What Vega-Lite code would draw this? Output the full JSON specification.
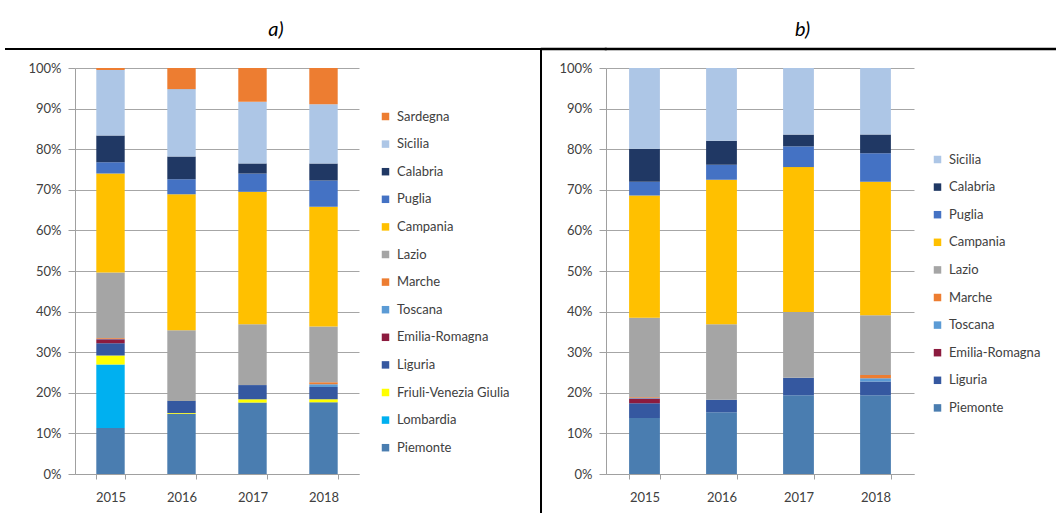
{
  "$schema": "https://vega.github.io/schema/vega-lite/v6.json",
  "background": "white",
  "padding": {"left": 5, "top": 18, "right": 0, "bottom": 0},
  "columns": 5,
  "spacing": 0,
  "bounds": "flush",
  "datasets": {
    "a": [
      {"year": "2015", "region": "Piemonte", "share": 11.3},
      {"year": "2015", "region": "Lombardia", "share": 15.7},
      {"year": "2015", "region": "Friuli-Venezia Giulia", "share": 2.2},
      {"year": "2015", "region": "Liguria", "share": 3.0},
      {"year": "2015", "region": "Emilia-Romagna", "share": 1.0},
      {"year": "2015", "region": "Toscana", "share": 0.1},
      {"year": "2015", "region": "Marche", "share": 0.2},
      {"year": "2015", "region": "Lazio", "share": 16.1},
      {"year": "2015", "region": "Campania", "share": 24.4},
      {"year": "2015", "region": "Puglia", "share": 2.8},
      {"year": "2015", "region": "Calabria", "share": 6.6},
      {"year": "2015", "region": "Sicilia", "share": 16.1},
      {"year": "2015", "region": "Sardegna", "share": 0.5},
      {"year": "2016", "region": "Piemonte", "share": 14.8},
      {"year": "2016", "region": "Friuli-Venezia Giulia", "share": 0.2},
      {"year": "2016", "region": "Liguria", "share": 3.0},
      {"year": "2016", "region": "Lazio", "share": 17.4},
      {"year": "2016", "region": "Campania", "share": 33.5},
      {"year": "2016", "region": "Puglia", "share": 3.7},
      {"year": "2016", "region": "Calabria", "share": 5.6},
      {"year": "2016", "region": "Sicilia", "share": 16.6},
      {"year": "2016", "region": "Sardegna", "share": 5.2},
      {"year": "2017", "region": "Piemonte", "share": 17.6},
      {"year": "2017", "region": "Friuli-Venezia Giulia", "share": 0.8},
      {"year": "2017", "region": "Liguria", "share": 3.5},
      {"year": "2017", "region": "Lazio", "share": 15.0},
      {"year": "2017", "region": "Campania", "share": 32.6},
      {"year": "2017", "region": "Puglia", "share": 4.5},
      {"year": "2017", "region": "Calabria", "share": 2.5},
      {"year": "2017", "region": "Sicilia", "share": 15.2},
      {"year": "2017", "region": "Sardegna", "share": 8.3},
      {"year": "2018", "region": "Piemonte", "share": 17.7},
      {"year": "2018", "region": "Friuli-Venezia Giulia", "share": 0.7},
      {"year": "2018", "region": "Liguria", "share": 3.0},
      {"year": "2018", "region": "Toscana", "share": 0.7},
      {"year": "2018", "region": "Marche", "share": 0.5},
      {"year": "2018", "region": "Lazio", "share": 13.7},
      {"year": "2018", "region": "Campania", "share": 29.5},
      {"year": "2018", "region": "Puglia", "share": 6.5},
      {"year": "2018", "region": "Calabria", "share": 4.2},
      {"year": "2018", "region": "Sicilia", "share": 14.6},
      {"year": "2018", "region": "Sardegna", "share": 8.9}
    ],
    "b": [
      {"year": "2015", "region": "Piemonte", "share": 13.8},
      {"year": "2015", "region": "Liguria", "share": 3.6},
      {"year": "2015", "region": "Emilia-Romagna", "share": 1.2},
      {"year": "2015", "region": "Toscana", "share": 0.1},
      {"year": "2015", "region": "Marche", "share": 0.2},
      {"year": "2015", "region": "Lazio", "share": 19.6},
      {"year": "2015", "region": "Campania", "share": 30.1},
      {"year": "2015", "region": "Puglia", "share": 3.4},
      {"year": "2015", "region": "Calabria", "share": 8.1},
      {"year": "2015", "region": "Sicilia", "share": 19.9},
      {"year": "2016", "region": "Piemonte", "share": 15.2},
      {"year": "2016", "region": "Liguria", "share": 3.1},
      {"year": "2016", "region": "Lazio", "share": 18.6},
      {"year": "2016", "region": "Campania", "share": 35.6},
      {"year": "2016", "region": "Puglia", "share": 3.7},
      {"year": "2016", "region": "Calabria", "share": 5.9},
      {"year": "2016", "region": "Sicilia", "share": 17.9},
      {"year": "2017", "region": "Piemonte", "share": 19.4},
      {"year": "2017", "region": "Liguria", "share": 4.3},
      {"year": "2017", "region": "Lazio", "share": 16.2},
      {"year": "2017", "region": "Campania", "share": 35.7},
      {"year": "2017", "region": "Puglia", "share": 5.1},
      {"year": "2017", "region": "Calabria", "share": 2.9},
      {"year": "2017", "region": "Sicilia", "share": 16.4},
      {"year": "2018", "region": "Piemonte", "share": 19.4},
      {"year": "2018", "region": "Liguria", "share": 3.4},
      {"year": "2018", "region": "Toscana", "share": 0.8},
      {"year": "2018", "region": "Marche", "share": 0.8},
      {"year": "2018", "region": "Lazio", "share": 14.7},
      {"year": "2018", "region": "Campania", "share": 32.9},
      {"year": "2018", "region": "Puglia", "share": 7.0},
      {"year": "2018", "region": "Calabria", "share": 4.6},
      {"year": "2018", "region": "Sicilia", "share": 16.4}
    ]
  },
  "config": {
    "font": "Lato",
    "view": {"stroke": null},
    "axis": {
      "labelFont": "Lato",
      "labelFontSize": 13,
      "labelColor": "#404040",
      "domainColor": "#a0a0a0",
      "tickColor": "#a0a0a0",
      "gridColor": "#a6a6a6",
      "title": null
    },
    "legend": {
      "orient": "none",
      "title": null,
      "padding": 0,
      "symbolType": "square",
      "symbolSize": 56,
      "symbolStrokeWidth": 0,
      "labelFont": "Lato",
      "labelFontSize": 13,
      "labelColor": "#404040",
      "labelOffset": 5,
      "rowPadding": 13.6
    },
    "title": {
      "font": "Lato",
      "fontSize": 20,
      "fontStyle": "italic",
      "fontWeight": "normal",
      "color": "#000000",
      "anchor": "middle",
      "frame": "group",
      "baseline": "alphabetic",
      "offset": 9
    }
  },
  "resolve": {"scale": {"color": "independent", "x": "independent", "y": "independent"}, "legend": {"color": "independent"}},
  "concat": [
    {"width": 69, "height": 0.01, "view": {"stroke": "#000000", "strokeWidth": 2}, "data": {"values": []}, "mark": "rule", "encoding": {}},
    {"width": 466, "height": 0.01, "title": {"text": "a)", "dx": -32}, "view": {"stroke": "#000000", "strokeWidth": 2}, "data": {"values": []}, "mark": "rule", "encoding": {}},
    {"width": 0.01, "height": 19, "view": {"stroke": "#000000", "strokeWidth": 2}, "data": {"values": []}, "mark": "rule", "encoding": {}},
    {"width": 63.5, "height": 0.01, "view": {"stroke": "#000000", "strokeWidth": 2.5}, "data": {"values": []}, "mark": "rule", "encoding": {}},
    {"width": 449, "height": 0.01, "title": {"text": "b)", "dx": -28}, "view": {"stroke": "#000000", "strokeWidth": 2.5}, "data": {"values": []}, "mark": "rule", "encoding": {}},
    {"width": 69, "height": 444, "data": {"values": []}, "mark": "rule", "encoding": {}},
    {
      "width": 284,
      "height": 406,
      "data": {"name": "a"},
      "transform": [
        {"calculate": "indexof(['Sardegna','Sicilia','Calabria','Puglia','Campania','Lazio','Marche','Toscana','Emilia-Romagna','Liguria','Friuli-Venezia Giulia','Lombardia','Piemonte'], datum.region)", "as": "idx"}
      ],
      "mark": {"type": "bar"},
      "encoding": {
        "x": {
          "field": "year", "type": "nominal",
          "scale": {"paddingInner": 0.6, "paddingOuter": 0.3},
          "axis": {"labelAngle": 0, "tickBand": "extent", "tickSize": 5, "labelPadding": 12, "grid": false}
        },
        "y": {
          "field": "share", "type": "quantitative", "stack": "normalize",
          "scale": {"domain": [0, 1], "nice": false},
          "axis": {"values": [0, 0.1, 0.2, 0.3, 0.4, 0.5, 0.6, 0.7, 0.8, 0.9, 1], "format": ".0%", "tickSize": 7, "labelPadding": 7, "grid": true}
        },
        "color": {
          "field": "region", "type": "nominal",
          "scale": {
            "domain": ["Sardegna", "Sicilia", "Calabria", "Puglia", "Campania", "Lazio", "Marche", "Toscana", "Emilia-Romagna", "Liguria", "Friuli-Venezia Giulia", "Lombardia", "Piemonte"],
            "range": ["#ED7D31", "#ADC6E6", "#203864", "#4472C4", "#FFC000", "#A5A5A5", "#ED7D31", "#5B9BD5", "#8C1B3F", "#3558A0", "#FFFF00", "#00B0F0", "#4A7DB0"]
          },
          "legend": {"legendX": 304, "legendY": 42}
        },
        "order": {"field": "idx", "type": "quantitative", "sort": "descending"}
      }
    },
    {"width": 0.01, "height": 444, "view": {"stroke": "#000000", "strokeWidth": 2}, "data": {"values": []}, "mark": "rule", "encoding": {}},
    {"width": 63.5, "height": 444, "data": {"values": []}, "mark": "rule", "encoding": {}},
    {
      "width": 308,
      "height": 406,
      "data": {"name": "b"},
      "transform": [
        {"calculate": "indexof(['Sicilia','Calabria','Puglia','Campania','Lazio','Marche','Toscana','Emilia-Romagna','Liguria','Piemonte'], datum.region)", "as": "idx"}
      ],
      "mark": {"type": "bar"},
      "encoding": {
        "x": {
          "field": "year", "type": "nominal",
          "scale": {"paddingInner": 0.6, "paddingOuter": 0.3},
          "axis": {"labelAngle": 0, "tickBand": "extent", "tickSize": 5, "labelPadding": 12, "grid": false}
        },
        "y": {
          "field": "share", "type": "quantitative", "stack": "normalize",
          "scale": {"domain": [0, 1], "nice": false},
          "axis": {"values": [0, 0.1, 0.2, 0.3, 0.4, 0.5, 0.6, 0.7, 0.8, 0.9, 1], "format": ".0%", "tickSize": 7, "labelPadding": 7, "grid": true}
        },
        "color": {
          "field": "region", "type": "nominal",
          "scale": {
            "domain": ["Sicilia", "Calabria", "Puglia", "Campania", "Lazio", "Marche", "Toscana", "Emilia-Romagna", "Liguria", "Piemonte"],
            "range": ["#ADC6E6", "#203864", "#4472C4", "#FFC000", "#A5A5A5", "#ED7D31", "#5B9BD5", "#8C1B3F", "#3558A0", "#4A7DB0"]
          },
          "legend": {"legendX": 325, "legendY": 85}
        },
        "order": {"field": "idx", "type": "quantitative", "sort": "descending"}
      }
    }
  ]
}
